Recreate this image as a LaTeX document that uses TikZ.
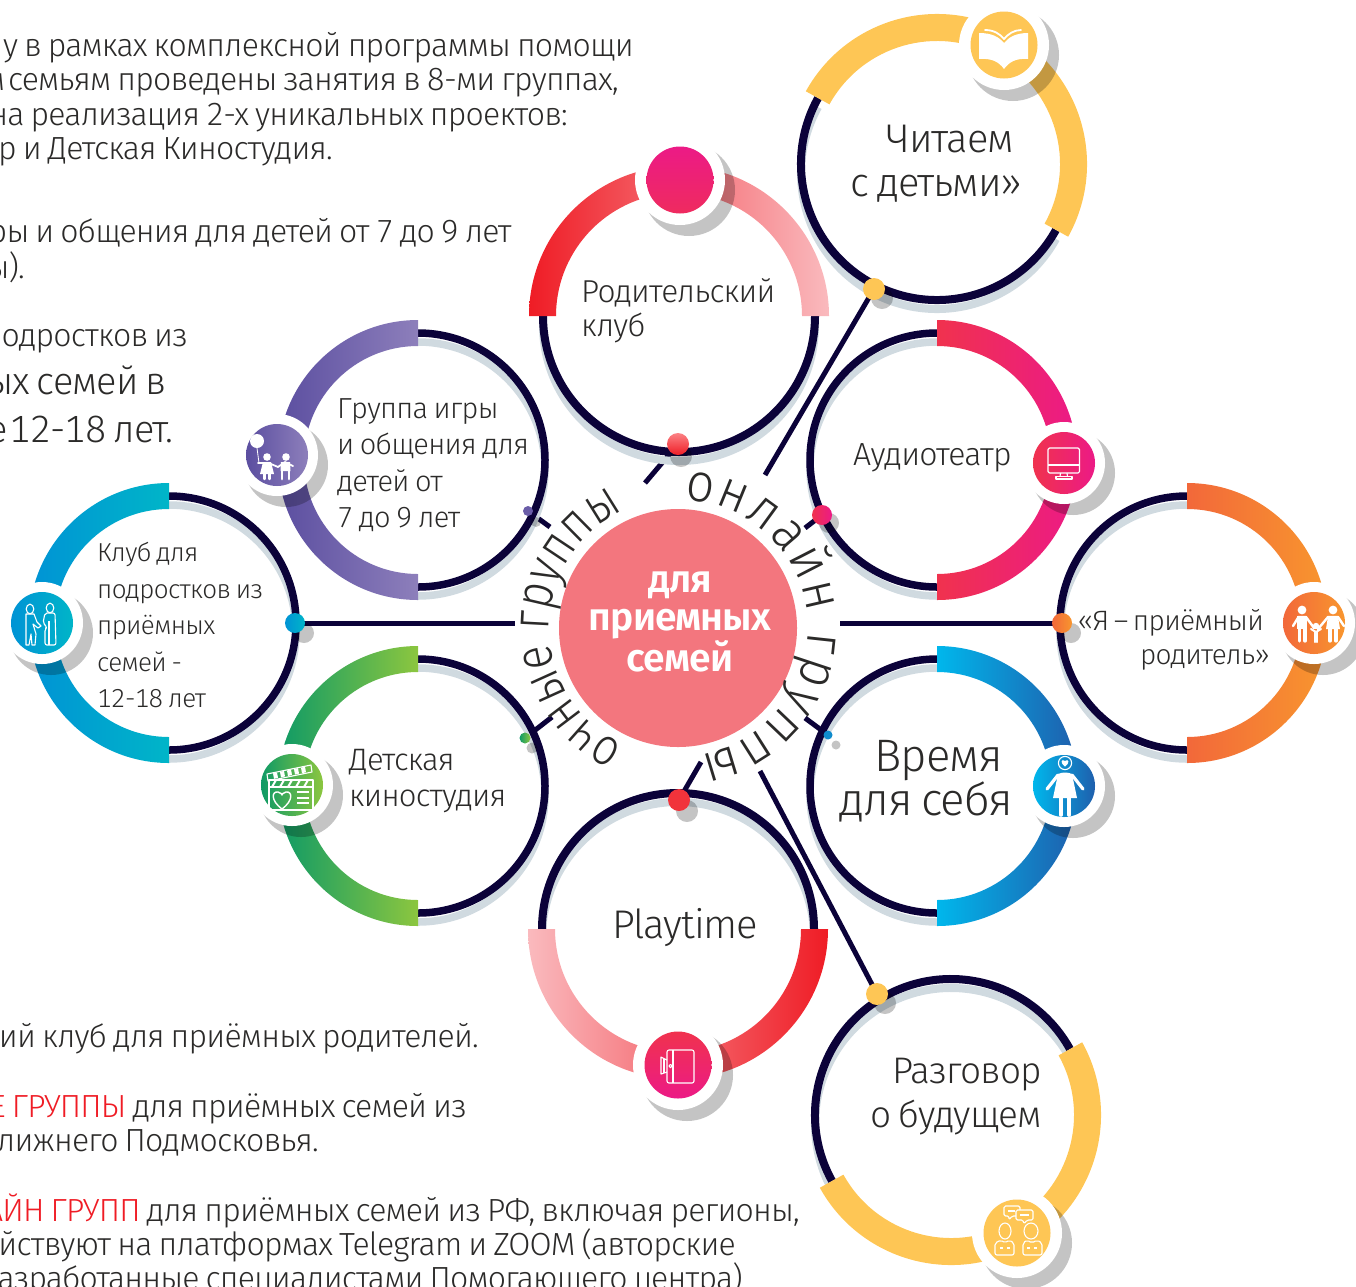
\documentclass[tikz,border=0pt]{standalone}
\usepackage{fontspec}
\setmainfont[LetterSpace=-2.5,WordSpace=0.75,Numbers=Monospaced]{Fira Sans Light}
\newfontfamily\curvef[FakeStretch=0.84]{Fira Sans Light}
\newfontfamily\curveg[FakeStretch=0.92]{Fira Sans Light}
\usetikzlibrary{decorations.text,backgrounds}
\definecolor{inkc}{HTML}{0B0239}
\definecolor{shadec}{HTML}{D0DAE0}
\definecolor{txtc}{HTML}{2B2A29}
\definecolor{yel}{HTML}{FEC655}
\definecolor{redc}{HTML}{EF1C25}
\definecolor{pinkc}{HTML}{FABABE}
\definecolor{rosec}{HTML}{F0324E}
\definecolor{magc}{HTML}{EC1A86}
\definecolor{oranA}{HTML}{F2683A}
\definecolor{oranB}{HTML}{F8962E}
\definecolor{blueA}{HTML}{00B7EC}
\definecolor{blueB}{HTML}{1F5FAD}
\definecolor{greenA}{HTML}{0E9A66}
\definecolor{greenB}{HTML}{8CC63F}
\definecolor{purpA}{HTML}{5B4EA0}
\definecolor{purpB}{HTML}{8D7FBB}
\definecolor{cyanA}{HTML}{0093D5}
\definecolor{cyanB}{HTML}{00B5C8}
\newcommand{\annul}[7]{% cx cy r1 r2 a b options
  \shade[#7] (#1,#2) ++(#5:#4 pt) arc[start angle=#5,end angle=#6,radius=#4 pt]
     -- ([shift={(#6:#3 pt)}]#1,#2) arc[start angle=#6,end angle=#5,radius=#3 pt] -- cycle;}
\newcommand{\ring}[6]{% cx cy r a b width: shadow + dark
  \draw[shadec,line width=#6 pt] (#1,#2+9) ++(#4:#3 pt) arc[start angle=#4,end angle=#5,radius=#3 pt];
  \draw[inkc,line width=#6 pt] (#1,#2) ++(#4:#3 pt) arc[start angle=#4,end angle=#5,radius=#3 pt];}
\newcommand{\halo}[3]{% x y r
  \fill[black,opacity=.23] (#1+9,#2+10) circle[radius=#3 pt+1pt];
  \fill[white] (#1,#2) circle[radius=#3 pt];}
\tikzset{
  lab/.style={text=txtc,align=left,anchor=west,inner sep=0pt},
  body/.style={text=txtc,anchor=base east,inner sep=0pt},
  conn/.style={inkc,line width=5pt},
  dotn/.style={circle,inner sep=0pt,minimum size=#1 pt},
  ico/.style={circle,inner sep=0pt,minimum size=#1 pt},
  dsh/.style={black,opacity=.23},
  ol/.style={white,line width=1.1pt,line join=round},
  ts/.style={white,line width=#1 pt,line cap=round,line join=round}
}
\begin{document}
\begin{tikzpicture}[x=1pt,y=-1pt]
\useasboundingbox (0,0) rectangle (1356,1286);
\clip (0,0) rectangle (1356,1286);
% ---------- dark rings
\ring{937}{164}{136}{-29}{-209}{8}
\ring{679}{316}{136}{0}{-180}{8}
\ring{937}{460}{127}{90}{270}{7.5}
\ring{1187}{623}{127}{90}{270}{7.5}
\ring{937}{786}{127}{90}{270}{7.5}
\ring{678}{929}{136}{0}{180}{8}
\ring{951}{1115}{136}{29}{209}{8}
\ring{418}{786}{127}{90}{-90}{7.5}
\ring{418}{460}{127}{90}{-90}{7.5}
\ring{169}{623}{127}{90}{-90}{7.5}
% ---------- bands
\annul{937}{164}{123}{150}{151}{-29}{left color=yel,right color=yel}
\annul{679}{316}{123}{150}{180}{0}{left color=redc,right color=pinkc}
\annul{937}{460}{114}{140}{90}{-90}{left color=rosec,right color=magc}
\annul{1187}{623}{114}{140}{90}{-90}{left color=oranA,right color=oranB}
\annul{937}{786}{114}{140}{90}{-90}{left color=blueA,right color=blueB}
\annul{678}{929}{123}{150}{180}{360}{left color=pinkc,right color=redc}
\annul{951}{1115}{123}{150}{29}{-151}{left color=yel,right color=yel}
\annul{418}{786}{114}{140}{90}{270}{left color=greenA,right color=greenB}
\annul{418}{460}{114}{140}{90}{270}{left color=purpA,right color=purpB}
\annul{169}{623}{114}{140}{90}{270}{left color=cyanA,right color=cyanB}
% ---------- halos + icon discs
\halo{1004}{45}{45}
\node[ico=67,fill=yel] (ibook) at (1004,45) {};
\halo{680}{180}{45}
\node[ico=67,shade,top color=magc,bottom color=rosec!70!magc] (ipar) at (680,180) {};
\halo{1064}{463}{41}
\node[ico=62,shade,left color=rosec,right color=magc] (iaud) at (1064,463) {};
\halo{1314}{623}{41}
\node[ico=62,shade,left color=oranA,right color=oranB] (ifam) at (1314,623) {};
\halo{1064}{786}{41}
\node[ico=62,shade,left color=blueA,right color=blueB] (ime) at (1064,786) {};
\halo{678}{1065}{45}
\node[ico=67,shade,top color=rosec,bottom color=magc] (iplay) at (678,1065) {};
\halo{1017}{1233}{45}
\node[ico=67,fill=yel] (italk) at (1017,1233) {};
\halo{292}{785}{41}
\node[ico=62,shade,left color=greenA,right color=greenB] (ifilm) at (292,785) {};
\halo{277}{455}{41}
\node[ico=62,shade,left color=purpA,right color=purpB] (ikid) at (277,455) {};
\halo{42}{623}{41}
\node[ico=62,shade,left color=cyanA,right color=cyanB] (iteen) at (42,623) {};
% ---------- icon glyphs
% book
\begin{scope}[shift={(1004,45)}]
\fill[white] (-25,-12) .. controls (-12,-12) and (-5,-8) .. (0,-2) .. controls (5,-8) and (12,-12) .. (24,-12) -- (24,14) .. controls (12,13) and (5,17) .. (0,24) .. controls (-5,17) and (-12,13) .. (-25,14) -- cycle;
\draw[ts=1.8] (-19,-15) .. controls (-10,-15) and (-4,-11) .. (0,-6) .. controls (4,-11) and (10,-15) .. (17,-15);
\end{scope}
% monitor
\begin{scope}[shift={(1064,463)}]
\draw[ol,rounded corners=1.5pt] (-16,-15) rectangle (15.5,10);
\draw[ol] (-16,2) -- (15.5,2);
\draw[ol] (-3.5,10) -- (-4,13.5) (3,10) -- (3.5,13.5);
\draw[ol] (-8,13.5) rectangle (8,16);
\end{scope}
% family
\begin{scope}[shift={(1314,623)}]
\fill[white] (-12,-13) circle[radius=4.4pt] (19,-13) circle[radius=4.4pt] (2,3) circle[radius=3.2pt];
\draw[ts=2.4] (-21,3) -- (-15.5,-6) -- (-8,-6) -- (0,5);
\fill[white] (-17,-7) rectangle (-7,6);
\draw[ts=3.2] (-14.5,5) -- (-14.5,18) (-9,5) -- (-9,18);
\draw[ts=2.4] (4,6) -- (14,-6) -- (24,-6) -- (30,3);
\fill[white] (14,-7) -- (24,-7) -- (26,6) -- (12,6) -- cycle;
\draw[ts=3.2] (16,5) -- (16,18) (22,5) -- (22,18);
\draw[ts=2] (-3,6) -- (2,9) -- (7,6);
\fill[white] (0,8) rectangle (4,14);
\draw[ts=2] (0.7,13) -- (0.7,19) (3.3,13) -- (3.3,19);
\end{scope}
% woman
\begin{scope}[shift={(1064,786)}]
\draw[ol] (1,-23) circle[radius=6.6pt];
\fill[white] (1,-19.5) .. controls (-5,-24) and (-2,-27.5) .. (1,-25) .. controls (4,-27.5) and (7,-24) .. (1,-19.5) -- cycle;
\fill[white] (-6,-12) .. controls (-2,-14) and (4,-14) .. (8,-12) -- (13,12) -- (-11,12) -- cycle;
\draw[ts=3.2] (-6,-11) -- (-17,3) (8,-11) -- (19,3);
\draw[ts=3.6] (-3,10) -- (-3,29) (5,10) -- (5,29);
\end{scope}
% kids
\begin{scope}[shift={(277,455)}]
\fill[white] (-20,-14) circle[radius=7pt];
\draw[white,line width=.8pt] (-20,-7) -- (-18,8);
\fill[white] (-10,2) circle[radius=3.8pt] (9,2) circle[radius=3.8pt];
\draw[ts=1.8] (-19,8) -- (-13,8) -- (-6,9) -- (1,12) -- (8,7) -- (16,11);
\fill[white] (-14,7) -- (-6,7) -- (-3,19) -- (-17,19) -- cycle;
\draw[ts=2.4] (-12.5,18) -- (-12.5,24) (-7.5,18) -- (-7.5,24);
\fill[white] (4,7) -- (13,7) -- (13.5,16) -- (3.5,16) -- cycle;
\draw[ts=2.8] (5,15) -- (5,24) (12,15) -- (12,24);
\end{scope}
% clapper
\begin{scope}[shift={(292,785)}]
\draw[ol] (-25,-11) -- (19,-20) -- (20,-13) -- (-24,-4) -- cycle;
\foreach \s in {-19,-12,-5,2,9} {\fill[white] (\s,-15.5+\s*-0.2) -- (\s+4,-16.5+\s*-0.2) -- (\s+5,-11+\s*-0.2) -- (\s+1,-10+\s*-0.2) -- cycle;}
\draw[ol] (-23,-5) rectangle (21,25);
\draw[ol] (-23,2) -- (21,2);
\foreach \s in {-20,-12,-4,4,12} {\draw[white,line width=2pt] (\s,2) -- (\s+4,-5);}
\draw[white,line width=1.4pt,line join=round] (-10,24) .. controls (-22,15) and (-20,6) .. (-14,7) .. controls (-11,7) and (-10,10) .. (-10,10) .. controls (-10,10) and (-9,7) .. (-6,7) .. controls (0,6) and (2,15) .. (-10,24) -- cycle;
\draw[white,line width=1.4pt] (5,7) -- (17,7) (5,13) -- (17,13) (5,18) -- (17,18);
\end{scope}
% teens
\begin{scope}[shift={(42,623)}]
\draw[ol] (-12,-14) ellipse[x radius=3.8pt,y radius=4.8pt];
\draw[ol] (8,-15) ellipse[x radius=3.8pt,y radius=4.8pt];
\draw[ol] (-16,-9) -- (-8,-9) -- (-5,-1) -- (-1,3) -- (-4,5) -- (-9,1) -- (-6,11) -- (-7,22) -- (-10,22) -- (-11,11) -- (-13,22) -- (-16,22) -- cycle;
\draw[ol,rounded corners=2pt] (3,-10) -- (13,-10) -- (14,22) -- (3,22) -- (3,6) -- (5,4) -- (1,0) -- cycle;
\draw[ol] (7,-2) -- (7,22);
\end{scope}
% door
\begin{scope}[shift={(678,1065)}]
\draw[ol,rounded corners=2pt] (-11,-15) rectangle (16,18);
\draw[ol] (-5,-15) -- (-5,18);
\draw[ol] (-7.5,1) circle[radius=1.6pt];
\draw[ol] (-11,-5) -- (-17,-8) -- (-17,9) -- (-11,7);
\draw[ol] (-14,-6.5) -- (-14,8);
\end{scope}
% talk
\begin{scope}[shift={(1017,1233)}]
\draw[ol,rounded corners=1.5pt] (-13,-27) -- (3,-27) -- (3,-17) -- (-5,-17) -- (-8,-13) -- (-8,-17) -- (-13,-17) -- cycle;
\draw[ol,fill=yel,rounded corners=1.5pt] (-1,-23) -- (16,-23) -- (16,-13) -- (10,-13) -- (7,-9) -- (6,-13) -- (-1,-13) -- cycle;
\draw[ol] (3,-18) -- (12,-18) (-9,-22) -- (-2,-22);
\draw[ol] (-12,-2) ellipse[x radius=6pt,y radius=8pt];
\draw[ol] (14,-2) ellipse[x radius=7pt,y radius=8pt];
\draw[ol,rounded corners=2pt] (-22,10) -- (-16,7) -- (-12,10) -- (-8,7) -- (-3,10) -- (-3,22) -- (-22,22) -- cycle;
\draw[ol,rounded corners=2pt] (6,10) -- (10,7) -- (15,10) -- (20,7) -- (25,10) -- (25,22) -- (6,22) -- cycle;
\draw[ol] (-17,15) -- (-14,15) (-10,15) -- (-7,15) (10,15) -- (13,15) (17,15) -- (20,15);
\end{scope}
% ---------- central disc
\node[circle,fill={rgb,255:red,243;green,118;blue,126},minimum size=238pt,inner sep=0pt] (hub) at (678,628) {};
\node[text=white,align=center,inner sep=0pt,font=\fontsize{39}{38}\selectfont\bfseries] (hubt) at (680,622) {для\\приемных\\семей};
% ---------- connector dots
\fill[dsh] (882,298) circle[radius=11pt];
\node[dotn=22,fill=yel] (d1) at (874,289) {};
\fill[dsh] (681,456) circle[radius=11pt];
\node[dotn=22,shade,top color=pinkc!70!red,bottom color=redc] (d2) at (678,444) {};
\fill[dsh] (829,523) circle[radius=10pt];
\node[dotn=20,shade,left color=rosec,right color=magc] (d3) at (822,515) {};
\fill[dsh] (1071,633) circle[radius=10pt];
\node[dotn=20,shade,left color=oranA,right color=oranB] (d4) at (1062,623) {};
\fill[dsh] (836,745) circle[radius=4.5pt];
\node[dotn=9,fill=blueA!50!blueB] (d5) at (828,735) {};
\fill[dsh] (687,811) circle[radius=11pt];
\node[dotn=22,fill=redc!90!white] (d6) at (679,800) {};
\fill[dsh] (885,1003) circle[radius=11pt];
\node[dotn=22,fill=yel] (d7) at (877,994) {};
\fill[dsh] (532,748) circle[radius=5.5pt];
\node[dotn=11,shade,left color=greenA,right color=greenB] (d8) at (525,738) {};
\fill[dsh] (536,522) circle[radius=5pt];
\node[dotn=10,fill=purpA!70!purpB] (d9) at (528,511) {};
\fill[dsh] (304,633) circle[radius=10pt];
\node[dotn=20,shade,left color=cyanA,right color=cyanB] (d10) at (295,623) {};
% ---------- free ends
\coordinate (e1) at (765,475);
\coordinate (e2) at (645,483);
\coordinate (e3) at (805,528);
\coordinate (e4) at (840,623);
\coordinate (e5) at (805,718);
\coordinate (e6) at (701,762);
\coordinate (e7) at (760,771);
\coordinate (e8) at (552,717);
\coordinate (e9) at (550,527);
\coordinate (e10) at (515,623);
\begin{pgfonlayer}{background}
\foreach \i in {1,...,10} {\draw[conn] (d\i.center) -- (e\i);}
\end{pgfonlayer}
% ---------- labels
\node[lab,font=\fontsize{40}{44}\selectfont,align=right,anchor=north east] (t1) at (1023,125) {Читаем\hspace*{9pt}\\с детьми»};
\node[lab,font=\fontsize{31.7}{34}\selectfont] (t2) at (581,311) {Родительский\\клуб};
\node[lab,font=\fontsize{29}{36.5}\selectfont] (t3) at (337,465) {Группа игры\\и общения для\\детей от\\7 до 9 лет};
\node[lab,font=\fontsize{32}{32}\selectfont] (t4) at (853,458) {Аудиотеатр};
\node[lab,font=\fontsize{26}{36.5}\selectfont] (t5) at (97,625) {Клуб для\\подростков из\\приёмных\\семей -\\12-18 лет};
\node[lab,font=\fontsize{28}{34}\selectfont,align=right,anchor=east] (t6) at (1270,640) {«Я\,–\,приёмный\hspace*{6pt}\\родитель»};
\node[lab,font=\fontsize{31}{36}\selectfont] (t7) at (349,781) {Детская\\киностудия};
\node[lab,font=\fontsize{45.5}{44}\selectfont,align=right,anchor=east] (t8) at (1013,781) {Время\hspace*{10pt}\\для себя};
\node[lab,font=\fontsize{40}{44}\selectfont] (t9) at (612,928) {Playtime};
\node[lab,font=\fontsize{37}{44}\selectfont,align=right,anchor=east] (t10) at (1042,1097) {Разговор\\о будущем};
% ---------- curved text
\path[decorate,decoration={text along path,text align=fit to path,text={|\curvef\fontsize{53}{53}\selectfont\color{txtc}|очные группы}}]
  (678,628) ++(245:129pt) arc[start angle=245,end angle=116,radius=129pt];
\path[decorate,decoration={text along path,text align=fit to path,text={|\curveg\fontsize{54}{54}\selectfont\color{txtc}|онлайн группы}}]
  (680,628) ++(88:128pt) arc[start angle=88,end angle=-81,radius=128pt];
% ---------- body text
\begin{scope}[font=\fontsize{32}{34}\selectfont]
\node[body] (b1) at (634,56) {у в рамках комплексной программы помощи};
\node[body] (b2) at (619,90) {м\kern-3pt{} семьям проведены занятия в 8-ми группах,};
\node[body] (b3) at (568,125) {на реализация 2-х уникальных проектов:};
\node[body] (b4) at (333,159) {р и Детская Киностудия.};
\node[body] (b5) at (512,242) {ры и общения для детей от 7 до 9 лет};
\node[body] (b6) at (25,278) {ы).};
\node[body] (b7) at (188,346) {подростков из};
\node[body,font=\fontsize{38}{40}\selectfont] (b8) at (167,394) {ых семей в};
\node[body,font=\fontsize{38}{40}\selectfont] (b9) at (174,442) {е\kern-5pt{} 12-18 лет.};
\node[body] (b10) at (479,1047) {ий клуб для приёмных родителей.};
\node[body] (b11) at (467,1117) {\textcolor{redc}{Е ГРУППЫ} для приёмных семей из};
\node[body] (b12) at (319,1151) {лижнего Подмосковья.};
\node[body] (b13) at (800,1221) {\textcolor{redc}{АЙН ГРУПП} для приёмных семей из РФ, включая регионы,};
\node[body] (b14) at (736,1255) {йствуют на платформах Telegram и ZOOM (авторские};
\node[body] (b15) at (743,1289) {разработанные специалистами Помогающего центра)};
\end{scope}
\end{tikzpicture}
\end{document}
